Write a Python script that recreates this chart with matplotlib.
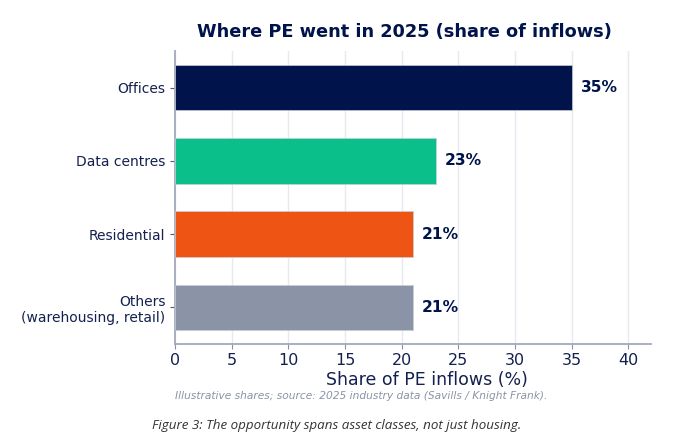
import numpy as np
import matplotlib.pyplot as plt

categories = ["Offices", "Data centres", "Residential", "Others\n(warehousing, retail)"]
shares = [35, 23, 21, 21]
colors = ["#00144b", "#0abf8a", "#ee5515", "#8a94a6"]

navy = "#00144b"
label_col = "#14204f"

fig = plt.figure(figsize=(6.9, 4.45), dpi=100)
ax = fig.add_axes([175 / 690, 1 - 344 / 445, (651 - 175) / 690, (344 - 51) / 445])

y = np.arange(len(categories))
ax.barh(y, shares, height=0.62, color=colors, edgecolor="#c9cdd8", linewidth=0.5, zorder=3)

for yi, v in zip(y, shares):
    ax.text(v + 0.8, yi, f"{v}%", va="center", ha="left", fontsize=11.2,
            fontweight="bold", color=navy)

ax.set_yticks(y)
ax.set_yticklabels(categories)
ax.set_ylim(len(categories) - 0.5, -0.5)
ax.set_xlim(0, 42)
ax.set_xticks(range(0, 41, 5))

ax.grid(axis="x", color="#e6e9f0", linewidth=1, zorder=0)
for s in ["top", "right"]:
    ax.spines[s].set_visible(False)
for s in ["left", "bottom"]:
    ax.spines[s].set_color("#a3a9bd")
    ax.spines[s].set_linewidth(1.3)

ax.tick_params(axis="x", labelsize=11.5, labelcolor=label_col, color="#8a90a6", length=3.5, pad=3)
ax.tick_params(axis="y", labelsize=10, labelcolor=label_col, color="#555b6e", length=3.5)

ax.set_xlabel("Share of PE inflows (%)", fontsize=12.5, color=label_col)
ax.xaxis.set_label_coords((427 - 175) / 476, -(371 - 344) / 293)
ax.set_title("Where PE went in 2025 (share of inflows)", fontsize=12.8,
             fontweight="bold", color=navy, x=(404.5 - 175) / 476, pad=10)

fig.text(175 / 690, 1 - 396 / 445, "Illustrative shares; source: 2025 industry data (Savills / Knight Frank).",
         fontsize=7.7, style="italic", color="#8a94a6", ha="left", va="center")
fig.text(152 / 690, 1 - 425 / 445, "Figure 3: The opportunity spans asset classes, not just housing.",
         fontsize=9.6, style="italic", family="Open Sans", color="#333333", ha="left", va="center")

fig.savefig("out.png", dpi=100)
